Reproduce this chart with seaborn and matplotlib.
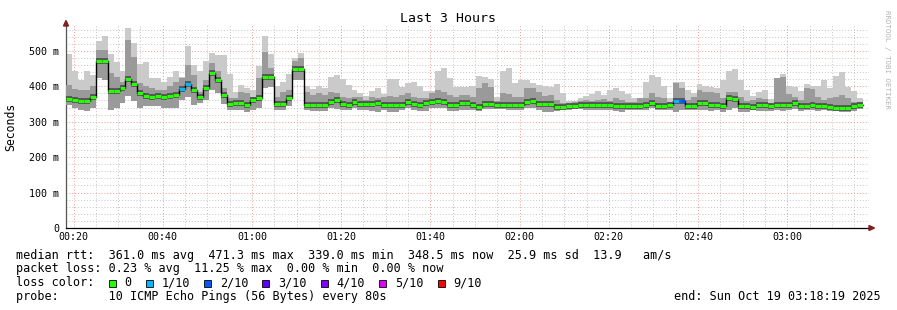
import numpy as np
import matplotlib
matplotlib.use("Agg")
import matplotlib.pyplot as plt
import seaborn as sns
from matplotlib.patches import Rectangle, Polygon
from matplotlib.ticker import MultipleLocator, FuncFormatter

# ---------------- data (ms) ----------------
median = [364,361,358,358,370,471,470,387,387,395,421,406,381,374,369,373,371,374,375,392,407,389,
          371,395,437,417,375,351,353,353,347,361,367,427,427,350,350,368,448,448,348,348,348,348,356,
          361,351,347,355,349,349,351,352,347,347,347,347,357,351,346,352,356,359,355,346,347,353,
          353,
          347,342,349,349,347,347,347,347,346,355,358,349,349,349,342,342,343,345,346,346,347,347,
          347,348,344,345,345,345,345,347,353,345,343,346,359,359,345,345,354,354,346,347,345,367,
          363,344,344,341,346,346,343,346,346,347,354,344,345,347,344,345,342,339,339,339,343,348]
smoke_max = [490,443,418,442,432,528,542,490,468,442,564,523,463,468,423,423,411,425,443,427,515,460,
             442,472,493,489,489,434,385,404,395,390,456,542,490,400,413,434,479,493,400,393,401,395,427,
             432,421,404,390,380,373,387,396,378,420,420,399,408,411,401,388,387,442,451,423,399,399,
             399,
             402,429,425,421,371,443,451,409,418,418,409,404,401,399,406,380,359,359,366,374,378,387,
             376,390,395,387,378,368,368,413,432,425,402,366,411,411,390,380,406,402,399,396,418,443,
             448,418,390,373,385,390,364,413,434,401,399,387,406,401,401,418,395,429,439,399,387,366]
smoke_upper = [404,392,390,390,400,503,503,437,427,413,531,484,409,400,395,390,390,400,413,423,460,432,
               385,418,465,442,395,366,366,385,380,371,423,498,451,371,385,390,470,481,385,376,380,376,385,
               380,371,366,371,371,362,371,368,371,374,371,376,380,371,366,366,380,390,385,376,371,376,
               376,
               371,395,409,399,359,380,378,371,371,396,395,385,374,376,362,352,349,357,359,362,359,362,
               364,359,368,362,357,357,366,368,380,371,366,357,409,395,362,371,390,385,385,380,366,385,
               385,371,359,362,366,364,352,423,427,378,371,362,395,392,371,362,366,371,376,366,357,357]
smoke_min = [347,338,333,329,338,423,418,333,340,352,373,359,340,343,343,343,340,340,338,362,371,347,
             352,362,390,380,349,333,333,333,327,333,338,394,399,333,333,343,418,418,333,330,330,330,338,
             336,333,333,338,333,333,330,327,333,327,327,333,338,333,329,330,340,338,338,330,330,333,
             333,
             333,329,336,336,336,336,333,333,333,338,338,333,327,327,330,333,333,336,336,333,333,333,
             333,333,330,327,333,333,333,333,338,333,333,333,327,333,333,333,333,333,330,333,327,333,
             338,327,327,333,330,330,329,333,330,333,336,330,333,333,330,333,330,329,327,327,330,336]
# lost pings out of 10 per step
loss = [0]*19 + [1, 1] + [0]*81 + [1, 2] + [0]*30

loss_labels = ["0", "1/10", "2/10", "3/10", "4/10", "5/10", "9/10"]
loss_colors = ["#26ff00", "#00b8ff", "#0059ff", "#5e00ff", "#7e00ff", "#dd00ff", "#ff0000"]
loss_color_of = {0: "#26ff00", 1: "#00b8ff", 2: "#0059ff", 3: "#5e00ff", 4: "#7e00ff", 5: "#dd00ff", 9: "#ff0000"}

start_min = 18 + 19/60          # 00:18:19
step_min = 80/60                # probe every 80 s
span_min = 180                  # last 3 hours

xtick_minutes = [20, 40, 60, 80, 100, 120, 140, 160, 180]

stats_line1 = "median rtt:  361.0 ms avg  471.3 ms max  339.0 ms min  348.5 ms now  25.9 ms sd  13.9   am/s"
stats_line2 = "packet loss: 0.23 % avg  11.25 % max  0.00 % min  0.00 % now"
probe_line = "probe:       10 ICMP Echo Pings (56 Bytes) every 80s"
end_line = "end: Sun Oct 19 03:18:19 2025"

# ---------------- figure ----------------
sns.set_theme(style="white")
plt.rcParams["font.family"] = ["DejaVu Sans Mono", "DejaVu Sans"]
W, H = 897, 310
fig = plt.figure(figsize=(W/100, H/100), dpi=100)
fig.patch.set_facecolor("white")

def fx(px): return px / W
def fy(py): return 1 - py / H

L, R, T, B = 66, 869, 25, 228
ax = fig.add_axes([fx(L), fy(B), (R - L) / W, (B - T) / H])
ax.set_facecolor("white")

med = np.array(median, float)
n = len(med)
t = start_min + np.arange(n) * step_min
t_end = t + step_min
tx = np.r_[t, t_end[-1]]

def ext(a):
    a = np.array(a, float)
    return np.r_[a, a[-1]]

ax.fill_between(tx, ext(smoke_min), ext(smoke_max), step="post", color="#cacaca", lw=0, zorder=2)
ax.fill_between(tx, ext(smoke_min), ext(smoke_upper), step="post", color="#9a9a9a", lw=0, zorder=3)
ax.hlines(med, t, t_end, colors="#555555", lw=4.2, zorder=4)

sns.lineplot(x=tx, y=ext(med), drawstyle="steps-post", color="black", lw=1.0,
             estimator=None, sort=False, ax=ax, zorder=5)
ax.hlines(med, t, t_end, colors=[loss_color_of[l] for l in loss], lw=2.2, zorder=6)

ax.set_xlim(start_min, start_min + span_min)
ax.set_ylim(0, 573)

ax.set_xticks(xtick_minutes)
ax.xaxis.set_minor_locator(MultipleLocator(5))
ax.yaxis.set_major_locator(MultipleLocator(100))
ax.yaxis.set_minor_locator(MultipleLocator(20))
ax.xaxis.set_major_formatter(FuncFormatter(lambda v, p: f"{int(v)//60:02d}:{int(v)%60:02d}"))
ax.yaxis.set_major_formatter(FuncFormatter(lambda v, p: "0" if v == 0 else f"{int(v)} m"))

ax.grid(which="minor", color="#c4c4c4", lw=0.7, ls=(0, (1, 2)), zorder=1)
ax.grid(which="major", color="#e89a9a", lw=0.7, ls=(0, (1, 2)), zorder=1)
ax.set_axisbelow(True)

ax.tick_params(axis="both", which="both", length=0, labelsize=7.2, colors="black")
ax.tick_params(axis="y", pad=5)
ax.tick_params(axis="x", pad=3)
ax.set_xlabel("")
ax.set_ylabel("")
for s in ["top", "right"]:
    ax.spines[s].set_visible(False)
ax.spines["left"].set_color("#555555")
ax.spines["left"].set_linewidth(0.9)
ax.spines["bottom"].set_color("black")
ax.spines["bottom"].set_linewidth(0.9)

# axis arrows
arrow_c = "#7f1f1f"
fig.patches.append(Polygon([[fx(63.5), fy(26)], [fx(68.5), fy(26)], [fx(66), fy(20.5)]],
                           closed=True, color=arrow_c, transform=fig.transFigure))
fig.patches.append(Polygon([[fx(869), fy(225.5)], [fx(869), fy(230.5)], [fx(874.5), fy(228)]],
                           closed=True, color=arrow_c, transform=fig.transFigure))

# texts
fig.text(fx(448), fy(19), "Last 3 Hours", ha="center", va="center", fontsize=9.5, color="black")
fig.text(fx(11), fy(127), "Seconds", rotation=90, ha="center", va="center", fontsize=8.3, color="black")
fig.text(fx(887), fy(60), "RRDTOOL / TOBI OETIKER", rotation=270, ha="center", va="center",
         fontsize=5.4, color="#b4b4b4")

fs = 8.5
x0 = 16
fig.text(fx(x0), fy(255), stats_line1, ha="left", va="center", fontsize=fs, color="black")
fig.text(fx(x0), fy(268.5), stats_line2, ha="left", va="center", fontsize=fs, color="black")
fig.text(fx(x0), fy(282.5), "loss color:", ha="left", va="center", fontsize=fs, color="black")
fig.text(fx(x0), fy(296.5), probe_line, ha="left", va="center", fontsize=fs, color="black")
fig.text(fx(881), fy(296.5), end_line, ha="right", va="center", fontsize=fs, color="black")

cw = 7.1
bx = 108.5
for lab, col in zip(loss_labels, loss_colors):
    fig.patches.append(Rectangle((fx(bx), fy(286.5)), 7 / W, 7 / H, facecolor=col,
                                 edgecolor="black", lw=0.6, transform=fig.transFigure))
    fig.text(fx(bx + 16), fy(282.5), lab, ha="left", va="center", fontsize=fs, color="black")
    bx += 16 + len(lab) * cw + 14

fig.savefig("out.png", dpi=100, facecolor="white")
